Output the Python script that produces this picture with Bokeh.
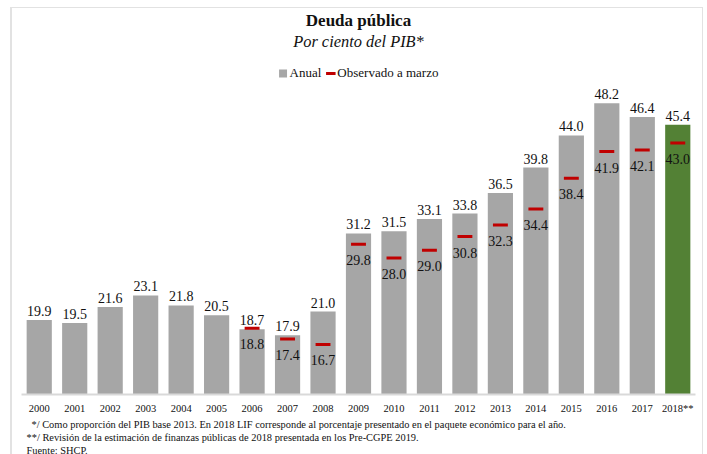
from bokeh.plotting import figure
from bokeh.models import (FactorRange, Range1d, ColumnDataSource, Title, Legend,
                          LegendItem)
from bokeh.transform import dodge
from bokeh.embed import file_html
from bokeh.resources import INLINE

# ---- data ----
years = ["2000", "2001", "2002", "2003", "2004", "2005", "2006", "2007", "2008",
         "2009", "2010", "2011", "2012", "2013", "2014", "2015", "2016", "2017",
         "2018**"]
anual = [19.9, 19.5, 21.6, 23.1, 21.8, 20.5, 18.7, 17.9, 21.0,
         31.2, 31.5, 33.1, 33.8, 36.5, 39.8, 44.0, 48.2, 46.4, 45.4]
marzo_years = ["2006", "2007", "2008", "2009", "2010", "2011", "2012", "2013",
               "2014", "2015", "2016", "2017", "2018**"]
marzo = [18.8, 17.4, 16.7, 29.8, 28.0, 29.0, 30.8, 32.3, 34.4, 38.4, 41.9, 42.1, 43.0]

title_text = "Deuda pública"
subtitle_text = "Por ciento del PIB*"
legend_labels = ["Anual", "Observado a marzo"]
notes = [
    "*/ Como proporción del PIB base 2013. En 2018 LIF corresponde al porcentaje presentado en el paquete económico para el año.",
    "**/ Revisión de la estimación de finanzas públicas de 2018 presentada en los Pre-CGPE 2019.",
    "Fuente: SHCP.",
]

GREY = "#a6a6a6"
GREEN = "#538135"
RED = "#c00000"
FONT = "Liberation Serif"

bar_colors = [GREEN if y.endswith("**") else GREY for y in years]

bars_src = ColumnDataSource(dict(years=years, anual=anual,
                                 label=[f"{v:.1f}" for v in anual],
                                 color=bar_colors))
mar_src = ColumnDataSource(dict(years=marzo_years, marzo=marzo,
                                label=[f"{v:.1f}" for v in marzo]))

p = figure(width=690, height=446, x_range=FactorRange(*years),
           y_range=Range1d(10.16, 55.1), output_backend="svg",
           toolbar_location=None, min_border_left=9, min_border_right=10,
           min_border_top=42, min_border_bottom=58)
p.title = None
p.outline_line_color = None
p.background_fill_color = "white"
p.border_fill_color = "white"
p.styles = {"box-sizing": "content-box",
            "margin-left": "10px", "margin-top": "7px",
            "border-left": "2px solid #e2e2e2",
            "border-top": "1px solid #e2e2e2",
            "border-right": "1px solid #e2e2e2"}

bars = p.vbar(x="years", top="anual", width=0.71, source=bars_src,
              fill_color="color", line_color=None)
dash = p.segment(x0=dodge("years", -0.21, range=p.x_range), y0="marzo",
                 x1=dodge("years", 0.21, range=p.x_range), y1="marzo",
                 source=mar_src, line_color=RED, line_width=3, line_cap="butt")

p.text(x="years", y="anual", text="label", source=bars_src,
       text_align="center", text_baseline="bottom", y_offset=-4,
       text_font={"value": FONT}, text_font_size="14px", text_color="#111111")
p.text(x="years", y="marzo", text="label", source=mar_src,
       text_align="center", text_baseline="top", y_offset=11,
       text_font={"value": FONT}, text_font_size="14px", text_color="#111111")

# axes
p.yaxis.visible = False
p.xgrid.grid_line_color = None
p.ygrid.grid_line_color = None
p.xaxis.axis_line_color = "#d9d9d9"
p.xaxis.axis_line_width = 2
p.xaxis.major_tick_line_color = None
p.xaxis.minor_tick_line_color = None
p.xaxis.major_tick_out = 0
p.xaxis.major_tick_in = 0
p.xaxis.major_label_standoff = 8
p.xaxis.major_label_text_font = FONT
p.xaxis.major_label_text_font_size = "10.5px"
p.xaxis.major_label_text_color = "#111111"

# legend (inside the frame, at its top)
legend = Legend(items=[LegendItem(label=legend_labels[0], renderers=[bars], index=0),
                       LegendItem(label=legend_labels[1], renderers=[dash])],
                orientation="horizontal", location="top_center",
                label_text_font=FONT, label_text_font_size="13px",
                label_text_color="#111111",
                glyph_width=10, glyph_height=10, label_height=14,
                label_standoff=2, spacing=4, padding=8, margin=15,
                border_line_color=None, background_fill_alpha=0)
p.add_layout(legend)

p.add_layout(Title(text=subtitle_text, align="center", text_font=FONT,
                   text_font_size="16.4px", text_font_style="italic",
                   text_color="#111111", standoff=0), "above")
p.add_layout(Title(text=title_text, align="center", text_font=FONT,
                   text_font_size="17px", text_font_style="bold",
                   text_color="#111111", standoff=0), "above")

offsets = [10, 5, 5]
for note, off in zip(notes, offsets):
    p.add_layout(Title(text=note, align="left", offset=off, text_font=FONT,
                       text_font_size="10.4px", text_font_style="normal",
                       text_line_height=1.0,
                       text_color="#111111", standoff=0), "below")

open("out.html", "w").write(file_html(p, INLINE))
